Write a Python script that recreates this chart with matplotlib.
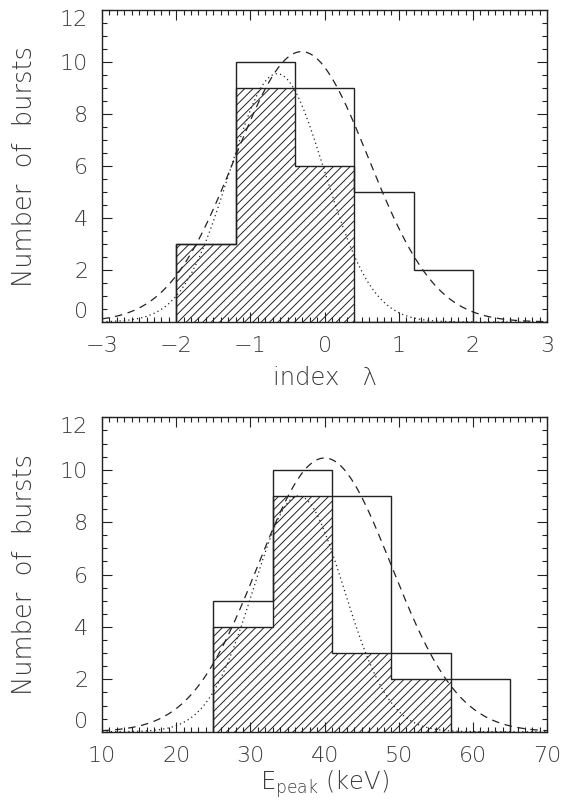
import numpy as np
import matplotlib
matplotlib.use('Agg')
import matplotlib.pyplot as plt
from matplotlib.ticker import MultipleLocator

plt.rcParams['font.family'] = ['DejaVu Sans']
plt.rcParams['font.weight'] = 'light'
plt.rcParams['axes.labelweight'] = 'light'
plt.rcParams['hatch.linewidth'] = 0.7

# top panel: spectral index lambda
lam_edges = [-2.0, -1.2, -0.4, 0.4, 1.2, 2.0]
lam_all = [3, 10, 9, 5, 2]
lam_sub = [3, 9, 6, 0, 0]
lam_dash = (10.4, -0.31, 0.90)    # amplitude, centre, sigma
lam_dot = (9.55, -0.64, 0.64)

# bottom panel: Epeak
ep_edges = [25, 33, 41, 49, 57, 65]
ep_all = [5, 10, 9, 3, 2]
ep_sub = [4, 9, 3, 2, 0]
ep_dash = (10.45, 40.0, 9.0)
ep_dot = (9.0, 36.5, 6.1)

txt = '#3c3c3c'

def gauss(x, p):
    a, m, s = p
    return a * np.exp(-0.5 * ((x - m) / s) ** 2)

def panel(ax, edges, allv, subv, pdash, pdot, xlim, xmaj, xmin, xlabel, xlab_y):
    ax.stairs(subv, edges, fill=True, facecolor='none', edgecolor='#222222',
              hatch='////', linewidth=1.0)
    ax.stairs(allv, edges, color='#222222', linewidth=1.0)
    xx = np.linspace(xlim[0], xlim[1], 400)
    ax.plot(xx, gauss(xx, pdash), color='#222222', lw=0.9, ls=(0, (6, 4.5)))
    ax.plot(xx, gauss(xx, pdot), color='#222222', lw=0.9, ls=(0, (1, 2.5)))
    ax.set_xlim(*xlim)
    ax.set_ylim(0, 12)
    ax.set_yticks([0, 2, 4, 6, 8, 10, 12])
    ax.xaxis.set_major_locator(MultipleLocator(xmaj))
    ax.xaxis.set_minor_locator(MultipleLocator(xmin))
    ax.yaxis.set_minor_locator(MultipleLocator(0.5))
    ax.tick_params(which='both', direction='in', top=True, right=True,
                   labelsize=16, labelcolor=txt, width=0.8, color='#222222')
    ax.tick_params(which='major', length=7)
    ax.tick_params(which='minor', length=3.5)
    ax.tick_params(axis='x', pad=10)
    ax.tick_params(axis='y', pad=10)
    for sp in ax.spines.values():
        sp.set_linewidth(1.0)
        sp.set_color('#222222')
    labs = ax.get_yticklabels()
    labs[0].set_va('bottom')
    labs[-1].set_va('top')
    ax.set_ylabel('Number  of  bursts', fontsize=18.5, color=txt, fontweight='light')
    ax.yaxis.set_label_coords(-0.145, 0.5)
    ax.set_xlabel(xlabel, fontsize=17.5, color=txt, fontweight='light')
    ax.xaxis.set_label_coords(0.5, xlab_y)

fig = plt.figure(figsize=(5.7, 8.09), dpi=100)
ax1 = fig.add_axes([0.179, 0.602, 0.781, 0.3856])
ax2 = fig.add_axes([0.179, 0.0955, 0.781, 0.3886])

panel(ax1, lam_edges, lam_all, lam_sub, lam_dash, lam_dot, (-3, 3), 1, 0.1,
      'index   \u03bb', -0.14)
panel(ax2, ep_edges, ep_all, ep_sub, ep_dash, ep_dot, (10, 70), 10, 1,
      r'$\mathregular{E_{peak}}$ (keV)', -0.115)

fig.savefig('out.png', dpi=100)
